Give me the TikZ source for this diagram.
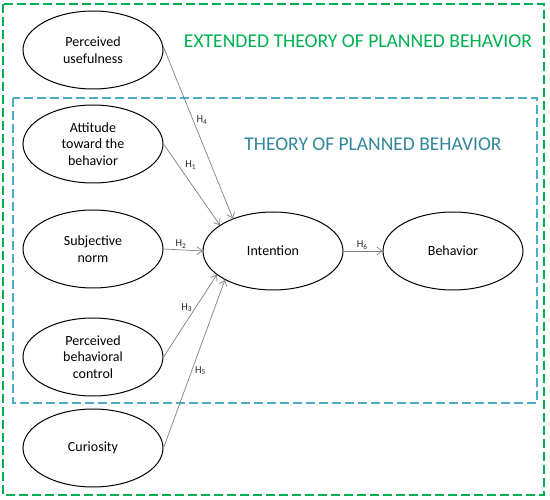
\documentclass[tikz,border=0pt]{standalone}
\usepackage{fontspec}
\setmainfont{Carlito}
\usetikzlibrary{shapes.geometric,arrows.meta}
\definecolor{tgreen}{HTML}{00B050}
\definecolor{tblue}{HTML}{31859C}
\definecolor{tblueline}{HTML}{4BACC6}
\definecolor{agray}{HTML}{7F7F7F}
\tikzset{
  construct/.style={ellipse,draw=black,line width=1pt,minimum width=140pt,minimum height=78pt,inner sep=0pt,align=center,font=\fontsize{14}{16.5}\selectfont},
  hyp/.style={draw=agray,line width=0.7pt,-{Straight Barb[length=5pt,width=8pt]}},
  hlab/.style={font=\fontsize{10.5}{12}\selectfont,text=black!85,inner sep=1pt},
  greenbox/.style={draw=tgreen,line width=1.3pt,dash pattern=on 9pt off 4pt},
  bluebox/.style={draw=tblueline,line width=1.3pt,dash pattern=on 9pt off 4pt},
}
\begin{document}
\begin{tikzpicture}[x=1pt,y=-1pt]
\useasboundingbox (0,0) rectangle (550,500);
\draw[greenbox] (3,4) rectangle (544,495);
\draw[bluebox] (13,98) rectangle (537,403);
\node[text=tgreen,font=\fontsize{19.6}{22}\selectfont] (ext) at (358,41) {EXTENDED THEORY OF PLANNED BEHAVIOR};
\node[text=tblue,font=\fontsize{19.5}{22}\selectfont] (tpb) at (373,144) {THEORY OF PLANNED BEHAVIOR};
\node[construct] (pu) at (93,50) {Perceived\\usefulness};
\node[construct] (att) at (93,144) {Attitude\\toward the\\behavior};
\node[construct] (sn) at (93,249) {Subjective\\norm};
\node[construct] (pbc) at (93,357) {Perceived\\behavioral\\control};
\node[construct] (cur) at (93,448) {Curiosity};
\node[construct] (int) at (273,251) {Intention};
\node[construct] (beh) at (453,251) {Behavior};
\draw[hyp] (pu.3) -- node[hlab,pos=0.43,anchor=west,xshift=2pt] {H\textsubscript{4}} (int.141);
\draw[hyp] (att.east) -- node[hlab,pos=0.33,anchor=south west,xshift=2pt] {H\textsubscript{1}} (int.154);
\draw[hyp] (sn.east) -- node[hlab,pos=0.45,anchor=south] {H\textsubscript{2}} (int.west);
\draw[hyp] (pbc.east) -- node[hlab,pos=0.6,anchor=east,xshift=-2pt] {H\textsubscript{3}} (int.203);
\draw[hyp] (cur.east) -- node[hlab,pos=0.46,anchor=west,xshift=2pt] {H\textsubscript{5}} (int.211);
\draw[hyp] (int.east) -- node[hlab,pos=0.48,anchor=south] {H\textsubscript{6}} (beh.west);
\end{tikzpicture}
\end{document}
